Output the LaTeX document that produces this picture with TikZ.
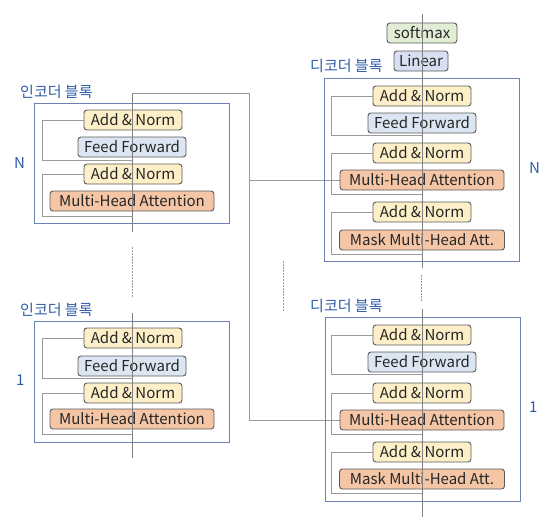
\documentclass[tikz,border=0pt]{standalone}
\usepackage{fontspec}
\setmainfont{Noto Sans CJK KR}
\usetikzlibrary{backgrounds}
\definecolor{anfill}{HTML}{FDF0C8}
\definecolor{fffill}{HTML}{DCE6F3}
\definecolor{mhfill}{HTML}{F4C6A6}
\definecolor{smfill}{HTML}{E1EDD5}
\definecolor{lnfill}{HTML}{D8DFF0}
\definecolor{boxdraw}{HTML}{5A5A5A}
\definecolor{blockdraw}{HTML}{6A82B2}
\definecolor{labelblue}{HTML}{2E5CA8}
\definecolor{mainline}{HTML}{808080}
\definecolor{resline}{HTML}{9A9A9A}
\tikzset{
  layer/.style={draw=boxdraw, line width=0.9pt, rounded corners=3pt, minimum height=20pt, inner sep=0pt, font=\fontsize{15}{16}\selectfont, text=black!85},
  addnorm/.style={layer, fill=anfill, minimum width=98pt},
  feedfwd/.style={layer, fill=fffill, minimum width=108pt},
  mha/.style={layer, fill=mhfill, minimum width=164pt},
  blockrect/.style={draw=blockdraw, line width=1pt},
  blocklabel/.style={text=labelblue, font=\fontsize{15}{16}\selectfont, anchor=west, inner sep=0pt},
  central/.style={draw=mainline, line width=0.8pt},
  resid/.style={draw=resline, line width=0.9pt},
  dots/.style={draw=mainline!80, line width=0.9pt, dash pattern=on 1.5pt off 1.5pt},
}
\begin{document}
\begin{tikzpicture}[x=1pt, y=-1pt]
\useasboundingbox (0,0) rectangle (552,531);

% ---------- Encoder N ----------
\begin{scope}[name prefix=eN-]
  \node[blocklabel] (lab) at (20,92) {인코더 블록};
  \node[blocklabel] (num) at (14,163) {N};
  \node[blockrect, draw, minimum width=195pt, minimum height=120pt, anchor=north west, inner sep=0pt] (rect) at (34,103) {};
  \node[addnorm] (an1) at (133,120) {Add \& Norm};
  \node[feedfwd] (ff) at (132,147) {Feed Forward};
  \node[addnorm] (an2) at (133,174) {Add \& Norm};
  \node[mha] (mh) at (132,201) {Multi-Head Attention};
  \coordinate (top) at (132,93);
  \coordinate (bot) at (132,232);
  \coordinate (r1a) at (42,120); \coordinate (r1b) at (42,160); \coordinate (r1c) at (132,160);
  \coordinate (r2a) at (42,174); \coordinate (r2b) at (42,216); \coordinate (r2c) at (132,216);
\end{scope}
\draw[resid] (eN-an1.west) -- (eN-r1a) -- (eN-r1b) -- (eN-r1c);
\draw[resid] (eN-an2.west) -- (eN-r2a) -- (eN-r2b) -- (eN-r2c);
\draw[central] (eN-top) -- (eN-bot);

% ---------- Encoder 1 ----------
\begin{scope}[name prefix=e1-]
  \node[blocklabel] (lab) at (20,310) {인코더 블록};
  \node[blocklabel] (num) at (16,380) {1};
  \node[blockrect, draw, minimum width=195pt, minimum height=121pt, anchor=north west, inner sep=0pt] (rect) at (34,321) {};
  \node[addnorm] (an1) at (133,338) {Add \& Norm};
  \node[feedfwd] (ff) at (132,366) {Feed Forward};
  \node[addnorm] (an2) at (133,393) {Add \& Norm};
  \node[mha] (mh) at (132,419) {Multi-Head Attention};
  \coordinate (top) at (132,313);
  \coordinate (bot) at (132,458);
  \coordinate (r1a) at (42,338); \coordinate (r1b) at (42,378); \coordinate (r1c) at (132,378);
  \coordinate (r2a) at (42,393); \coordinate (r2b) at (42,434); \coordinate (r2c) at (132,434);
\end{scope}
\draw[resid] (e1-an1.west) -- (e1-r1a) -- (e1-r1b) -- (e1-r1c);
\draw[resid] (e1-an2.west) -- (e1-r2a) -- (e1-r2b) -- (e1-r2c);
\draw[central] (e1-top) -- (e1-bot);

% dotted between encoders
\coordinate (edA) at (132,247);
\coordinate (edB) at (132,297);
\draw[dots] (edA) -- (edB);

% ---------- Decoder N ----------
\begin{scope}[name prefix=dN-]
  \node[blocklabel] (lab) at (310,66) {디코더 블록};
  \node[blocklabel] (num) at (529,168) {N};
  \node[blockrect, draw, minimum width=195pt, minimum height=183pt, anchor=north west, inner sep=0pt] (rect) at (324,78) {};
  \node[layer, fill=smfill, minimum width=70pt] (sm) at (422,33) {softmax};
  \node[layer, fill=lnfill, minimum width=54pt] (lin) at (421,61) {Linear};
  \node[addnorm] (an1) at (422,96) {Add \& Norm};
  \node[feedfwd] (ff) at (422,123) {Feed Forward};
  \node[addnorm] (an2) at (422,153) {Add \& Norm};
  \node[mha] (mh) at (422,180) {Multi-Head Attention};
  \node[addnorm] (an3) at (422,212) {Add \& Norm};
  \node[mha, minimum width=165pt] (mm) at (422,240) {Mask Multi-Head Att.};
  \coordinate (top) at (422,14);
  \coordinate (bot) at (422,268);
  \coordinate (r1a) at (331,96);  \coordinate (r1b) at (331,135); \coordinate (r1c) at (422,135);
  \coordinate (r2a) at (331,153); \coordinate (r2b) at (331,194); \coordinate (r2c) at (422,194);
  \coordinate (r3a) at (331,212); \coordinate (r3b) at (331,254); \coordinate (r3c) at (422,254);
\end{scope}
\draw[resid] (dN-an1.west) -- (dN-r1a) -- (dN-r1b) -- (dN-r1c);
\draw[resid] (dN-an2.west) -- (dN-r2a) -- (dN-r2b) -- (dN-r2c);
\draw[resid] (dN-an3.west) -- (dN-r3a) -- (dN-r3b) -- (dN-r3c);
\draw[central] (dN-top) -- (dN-bot);

% ---------- Decoder 1 ----------
\begin{scope}[name prefix=d1-]
  \node[blocklabel] (lab) at (310,306) {디코더 블록};
  \node[blocklabel] (num) at (529,407) {1};
  \node[blockrect, draw, minimum width=195pt, minimum height=184pt, anchor=north west, inner sep=0pt] (rect) at (325,317) {};
  \node[addnorm] (an1) at (422,335) {Add \& Norm};
  \node[feedfwd] (ff) at (422,362) {Feed Forward};
  \node[addnorm] (an2) at (422,393) {Add \& Norm};
  \node[mha] (mh) at (422,420) {Multi-Head Attention};
  \node[addnorm] (an3) at (422,452) {Add \& Norm};
  \node[mha, minimum width=165pt] (mm) at (422,479) {Mask Multi-Head Att.};
  \coordinate (top) at (422,309);
  \coordinate (bot) at (422,517);
  \coordinate (r1a) at (331,335); \coordinate (r1b) at (331,374); \coordinate (r1c) at (422,374);
  \coordinate (r2a) at (331,393); \coordinate (r2b) at (331,434); \coordinate (r2c) at (422,434);
  \coordinate (r3a) at (331,452); \coordinate (r3b) at (331,493); \coordinate (r3c) at (422,493);
\end{scope}
\draw[resid] (d1-an1.west) -- (d1-r1a) -- (d1-r1b) -- (d1-r1c);
\draw[resid] (d1-an2.west) -- (d1-r2a) -- (d1-r2b) -- (d1-r2c);
\draw[resid] (d1-an3.west) -- (d1-r3a) -- (d1-r3b) -- (d1-r3c);
\draw[central] (d1-top) -- (d1-bot);

% dotted between decoders
\coordinate (ddA) at (421,275);
\coordinate (ddB) at (421,302);
\draw[dots] (ddA) -- (ddB);
\coordinate (dsA) at (283,261);
\coordinate (dsB) at (283,312);
\draw[dots] (dsA) -- (dsB);

% ---------- encoder output to decoders ----------
\coordinate (xa) at (249,93);
\coordinate (xb) at (249,180);
\coordinate (xc) at (249,420);
\begin{scope}[on background layer]
\draw[resid] (eN-top) -- (xa) -- (xc) -- (d1-mh.west);
\draw[resid] (xb) -- (dN-mh.west);
\end{scope}
\end{tikzpicture}
\end{document}
